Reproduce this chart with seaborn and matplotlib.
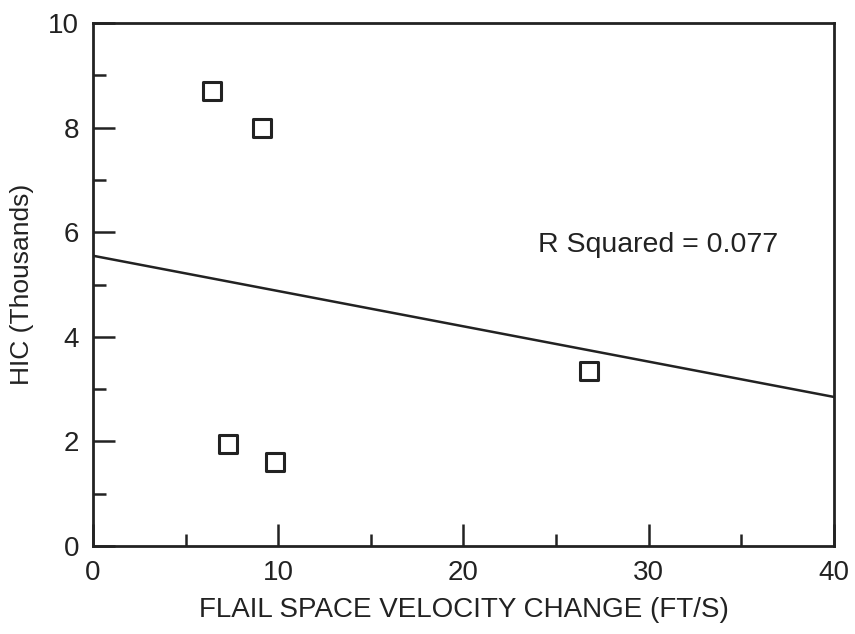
import matplotlib
matplotlib.use("Agg")
import matplotlib.pyplot as plt
import seaborn as sns
import pandas as pd
from matplotlib.ticker import MultipleLocator

# Data
velocity_change = [6.4, 9.1, 7.3, 9.8, 26.8]
hic_thousands = [8.7, 8.0, 1.95, 1.6, 3.35]
fit_x = [0, 40]
fit_y = [5.55, 2.85]
r_squared_label = "R Squared = 0.077"
x_ticks = [0, 10, 20, 30, 40]
y_ticks = [0, 2, 4, 6, 8, 10]

sns.set_theme(style="ticks")
plt.rcParams['font.family'] = ['Liberation Sans', 'DejaVu Sans']

fig = plt.figure(figsize=(8.55, 6.34), dpi=100)
ax = fig.add_axes([0.1088, 0.1388, 0.8666, 0.8249])

pts = pd.DataFrame({"x": velocity_change, "y": hic_thousands})
fit = pd.DataFrame({"x": fit_x, "y": fit_y})

sns.lineplot(data=fit, x="x", y="y", ax=ax, color="#222222", linewidth=1.8)
sns.scatterplot(data=pts, x="x", y="y", ax=ax, marker="s", s=165,
                facecolor="white", edgecolor="#222222", linewidth=2.2, zorder=5)

ax.set_xlim(0, 40)
ax.set_ylim(0, 10)
ax.set_xticks(x_ticks)
ax.set_yticks(y_ticks)
ax.xaxis.set_minor_locator(MultipleLocator(5))
ax.yaxis.set_minor_locator(MultipleLocator(1))
ax.tick_params(which="major", direction="in", length=16, width=1.8, colors="#222222",
               labelsize=20, pad=10, top=False, right=False)
ax.tick_params(which="minor", direction="in", length=9, width=1.8, colors="#222222",
               top=False, right=False)
for s in ax.spines.values():
    s.set_linewidth(2.0)
    s.set_color("#222222")

ax.set_xlabel("FLAIL SPACE VELOCITY CHANGE (FT/S)", fontsize=20, color="#222222", labelpad=8)
ax.set_ylabel("HIC (Thousands)", fontsize=19, color="#222222", labelpad=10)
ax.text(24.0, 5.76, r_squared_label, fontsize=20.5, color="#222222", va="center", ha="left")

fig.savefig("out.png", dpi=100)
